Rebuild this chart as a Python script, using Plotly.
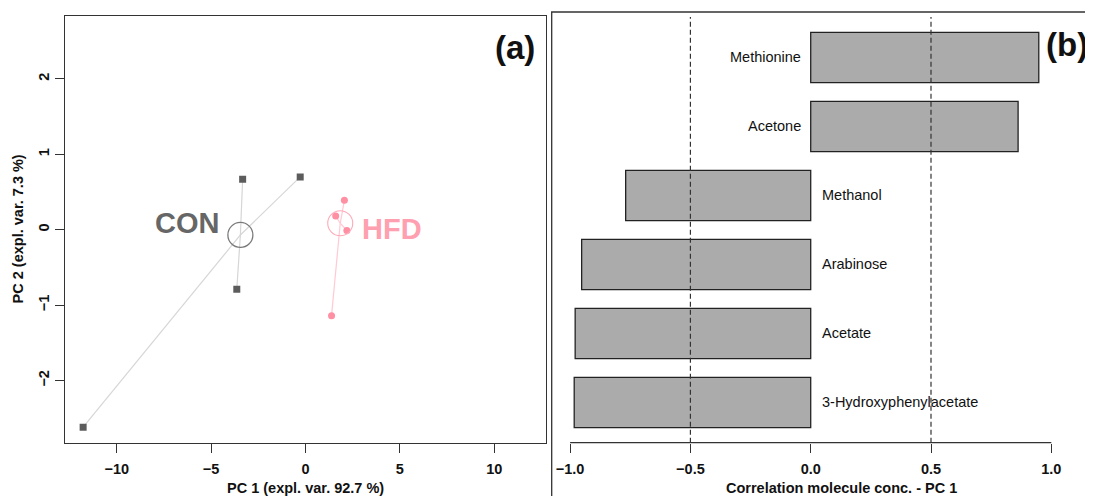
import plotly.graph_objects as go

# ---------------- data ----------------
# Panel (a): PCA scores
con_x = [-3.33, -0.28, -3.64, -11.78]
con_y = [0.67, 0.70, -0.79, -2.62]
hfd_x = [2.06, 1.60, 2.19, 1.38]
hfd_y = [0.39, 0.18, -0.01, -1.14]
con_centroid = (-3.45, -0.07)
hfd_centroid = (1.84, 0.085)
group_labels = ["CON", "HFD"]
pc_x_ticks = [-10, -5, 0, 5, 10]
pc_y_ticks = [-2, -1, 0, 1, 2]

# Panel (b): correlations with PC 1 (top to bottom)
molecules = ["Methionine", "Acetone", "Methanol", "Arabinose", "Acetate", "3-Hydroxyphenylacetate"]
correlations = [0.948, 0.862, -0.769, -0.952, -0.979, -0.983]
corr_ticks = [-1.0, -0.5, 0.0, 0.5, 1.0]
corr_tick_text = ["\u22121.0", "\u22120.5", "0.0", "0.5", "1.0"]
thresholds = [-0.5, 0.5]

# ---------------- styling ----------------
OFF = 8  # page body margin
W, H = 1093 - OFF, 496 - OFF
FONT = "Liberation Sans, Arial, sans-serif"
AX = "#333333"
CON_COL = "#5c5c5c"
CON_TXT = "#666666"
CON_LINE = "#d6d6d6"
HFD_COL = "#ff8fa2"
HFD_TXT = "#ffa0b0"
HFD_LINE = "#ffcad3"
HFD_CIRC = "#ffa8b8"


def px(xp):
    return (xp - OFF) / W


def py(yp):
    return 1 - (yp - OFF) / H


fig = go.Figure()

# spokes from centroid to each sample
def spokes(cx, cy, xs, ys):
    lx, ly = [], []
    for x, y in zip(xs, ys):
        lx += [cx, x, None]
        ly += [cy, y, None]
    return lx, ly

lx, ly = spokes(con_centroid[0], con_centroid[1], con_x, con_y)
fig.add_trace(go.Scatter(x=lx, y=ly, mode="lines", line=dict(color=CON_LINE, width=1.2),
                         xaxis="x", yaxis="y", showlegend=False, hoverinfo="skip"))
lx, ly = spokes(hfd_centroid[0], hfd_centroid[1], hfd_x, hfd_y)
fig.add_trace(go.Scatter(x=lx, y=ly, mode="lines", line=dict(color=HFD_LINE, width=1.2),
                         xaxis="x", yaxis="y", showlegend=False, hoverinfo="skip"))

fig.add_trace(go.Scatter(x=con_x, y=con_y, mode="markers",
                         marker=dict(symbol="square", size=7, color=CON_COL),
                         xaxis="x", yaxis="y", showlegend=False))
fig.add_trace(go.Scatter(x=hfd_x, y=hfd_y, mode="markers",
                         marker=dict(symbol="circle", size=7, color=HFD_COL),
                         xaxis="x", yaxis="y", showlegend=False))

fig.add_trace(go.Scatter(x=[con_centroid[0]], y=[con_centroid[1]], mode="markers",
                         marker=dict(symbol="circle-open", size=25, color="#7a7a7a",
                                     line=dict(width=1.3)),
                         xaxis="x", yaxis="y", showlegend=False))
fig.add_trace(go.Scatter(x=[hfd_centroid[0]], y=[hfd_centroid[1]], mode="markers",
                         marker=dict(symbol="circle-open", size=25, color=HFD_CIRC,
                                     line=dict(width=1.1)),
                         xaxis="x", yaxis="y", showlegend=False))

# Panel (b) bars
ypos = list(range(len(molecules) - 1, -1, -1))
fig.add_trace(go.Bar(x=correlations, y=ypos, orientation="h", width=0.73,
                     marker=dict(color="#ababab", line=dict(color="#222222", width=1.3)),
                     xaxis="x2", yaxis="y2", showlegend=False))

annotations = []
# group labels
annotations.append(dict(x=-6.29, y=0.09, xref="x", yref="y", text="<b>CON</b>",
                        showarrow=False, font=dict(family=FONT, size=29, color=CON_TXT),
                        xanchor="center", yanchor="middle"))
annotations.append(dict(x=4.6, y=0.01, xref="x", yref="y", text="<b>HFD</b>",
                        showarrow=False, font=dict(family=FONT, size=29, color=HFD_TXT),
                        xanchor="center", yanchor="middle"))
# panel letters
annotations.append(dict(x=px(515), y=py(47), xref="paper", yref="paper", text="<b>(a)</b>",
                        showarrow=False, font=dict(family=FONT, size=33, color="#111111"),
                        xanchor="center", yanchor="middle"))
annotations.append(dict(x=px(1044), y=py(45), xref="paper", yref="paper", text="<b>(b)</b>",
                        showarrow=False, font=dict(family=FONT, size=33, color="#111111"),
                        xanchor="left", yanchor="middle"))
# axis titles
annotations.append(dict(x=px(305.5), y=py(488), xref="paper", yref="paper",
                        text="<b>PC 1 (expl. var. 92.7 %)</b>", showarrow=False,
                        font=dict(family=FONT, size=14.5, color="#111111"),
                        xanchor="center", yanchor="middle"))
annotations.append(dict(x=px(18), y=py(229.4), xref="paper", yref="paper",
                        text="<b>PC 2 (expl. var. 7.3 %)</b>", showarrow=False, textangle=-90,
                        font=dict(family=FONT, size=14.5, color="#111111"),
                        xanchor="center", yanchor="middle"))
annotations.append(dict(x=px(841), y=py(488), xref="paper", yref="paper",
                        text="<b>Correlation molecule conc. - PC 1</b>", showarrow=False,
                        font=dict(family=FONT, size=14.5, color="#111111"),
                        xanchor="center", yanchor="middle"))
# molecule labels
for m, c, yp in zip(molecules, correlations, ypos):
    annotations.append(dict(x=0, y=yp, xref="x2", yref="y2", text=m, showarrow=False,
                            font=dict(family=FONT, size=14.5, color="#111111"),
                            xanchor="right" if c > 0 else "left",
                            xshift=-8 if c > 0 else 9, yanchor="middle"))

shapes = []
# right panel frame (runs off the picture)
shapes.append(dict(type="rect", xref="paper", yref="paper", x0=px(551.7), x1=1.1,
                   y0=-0.1, y1=py(12), line=dict(color=AX, width=1.3), fillcolor="rgba(0,0,0,0)"))
# right panel axis line from -1 to 1
shapes.append(dict(type="line", xref="x2", yref="paper", x0=corr_ticks[0], x1=corr_ticks[-1],
                   y0=py(442.7), y1=py(442.7), line=dict(color=AX, width=1.3)))
for t in thresholds:
    shapes.append(dict(type="line", xref="x2", yref="paper", x0=t, x1=t,
                       y0=py(442.7), y1=py(17), line=dict(color=AX, width=1.2, dash="5px,3px")))

tickfont = dict(family=FONT, size=14.5, color="#111111", weight="bold")

fig.update_layout(
    width=W, height=H, autosize=False,
    margin=dict(l=0, r=0, t=0, b=0),
    paper_bgcolor="white", plot_bgcolor="white",
    showlegend=False,
    xaxis=dict(domain=[px(65.2), px(545.8)], range=[-12.73, 12.73], anchor="y",
               showgrid=False, zeroline=False, showline=True, mirror=True,
               linecolor=AX, linewidth=1.3, ticks="outside", ticklen=9, tickwidth=1.2,
               tickcolor=AX, tickvals=pc_x_ticks, tickfont=tickfont, ticklabelstandoff=4),
    yaxis=dict(domain=[py(442.7), py(16)], range=[-2.825, 2.834], anchor="x",
               showgrid=False, zeroline=False, showline=True, mirror=True,
               linecolor=AX, linewidth=1.3, ticks="outside", ticklen=9, tickwidth=1.2,
               tickcolor=AX, tickvals=pc_y_ticks, tickangle=-90, tickfont=tickfont),
    xaxis2=dict(domain=[px(551.7), 1.0], range=[-1.0765, 1.1733], anchor="y2",
                showgrid=False, zeroline=False, showline=False,
                ticks="outside", ticklen=9, tickwidth=1.2, tickcolor=AX,
                tickvals=corr_ticks, ticktext=corr_tick_text, tickfont=tickfont,
                ticklabelstandoff=4),
    yaxis2=dict(domain=[py(442.7), py(12)], range=[-0.583, 5.659], anchor="x2",
                visible=False),
    annotations=annotations,
    shapes=shapes,
)

fig.write_html("out.html")
